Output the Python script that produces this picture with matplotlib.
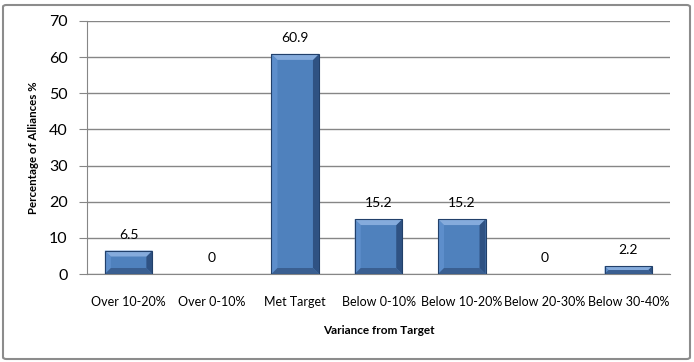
import matplotlib
matplotlib.use("Agg")
import matplotlib.pyplot as plt
from matplotlib.patches import FancyBboxPatch, Polygon

categories = ["Over 10-20%", "Over 0-10%", "Met Target", "Below 0-10%",
              "Below 10-20%", "Below 20-30%", "Below 30-40%"]
values = [6.5, 0, 60.9, 15.2, 15.2, 0, 2.2]
value_labels = ["6.5", "0", "60.9", "15.2", "15.2", "0", "2.2"]
yticks = [0, 10, 20, 30, 40, 50, 60, 70]

plt.rcParams['font.family'] = ['Lato', 'DejaVu Sans']

fig = plt.figure(figsize=(6.94, 3.62), dpi=100)
fig.patch.set_facecolor("white")
ax = fig.add_axes([87/694, 88/362, 583/694, 253/362])

ax.set_xlim(-0.5, len(categories) - 0.5)
ax.set_ylim(0, 70)

x = list(range(len(categories)))
bars = ax.bar(x, values, width=0.57, color="#4F81BD", linewidth=0, zorder=3)

# bevel effect derived from each bar's geometry
px_x = 583 / 7.0          # pixels per data unit (x)
px_y = 253 / 70.0         # pixels per data unit (y)
for b, v in zip(bars, values):
    if v <= 0:
        continue
    x0, x1 = b.get_x(), b.get_x() + b.get_width()
    top = b.get_height()
    hpx = top * px_y
    bp = min(6.0, hpx / 2.0)
    bx = bp / px_x
    by = bp / px_y
    pts_top = [(x0, top), (x1, top), (x1 - bx, top - by), (x0 + bx, top - by)]
    pts_left = [(x0, top), (x0 + bx, top - by), (x0 + bx, by), (x0, 0)]
    pts_right = [(x1, top), (x1 - bx, top - by), (x1 - bx, by), (x1, 0)]
    pts_bot = [(x0, 0), (x1, 0), (x1 - bx, by), (x0 + bx, by)]
    for pts, c in [(pts_left, "#5D8ECB"), (pts_right, "#2F5283"),
                   (pts_bot, "#3A5F91"), (pts_top, "#85ABDC")]:
        ax.add_patch(Polygon(pts, closed=True, facecolor=c, edgecolor="none", zorder=4))
    ax.add_patch(Polygon([(x0, 0), (x0, top), (x1, top), (x1, 0)], closed=True,
                         facecolor="none", edgecolor="#22406A", linewidth=0.8, zorder=5))

for xi, v, lab in zip(x, values, value_labels):
    ax.annotate(lab, (xi, v), xytext=(0, 11.5), textcoords="offset points",
                ha="center", va="center", fontsize=10, color="black")

ax.set_yticks(yticks)
ax.set_yticklabels([str(t) for t in yticks], fontsize=11.5)
ax.set_xticks(x)
ax.set_xticklabels(categories, fontsize=9)
ax.tick_params(axis="x", length=0, pad=16)
ax.tick_params(axis="y", length=6, color="#868686", pad=8)
ax.yaxis.grid(True, color="#868686", linewidth=1.0, zorder=0)
ax.set_axisbelow(True)
for s in ["top", "right"]:
    ax.spines[s].set_visible(False)
ax.spines["left"].set_color("#868686")
ax.spines["bottom"].set_color("#868686")

ax.set_ylabel("Percentage of Alliances %", fontsize=8.3, fontweight="bold", labelpad=7)
ax.set_xlabel("Variance from Target", fontsize=8.5, fontweight="bold", labelpad=12)

frame = FancyBboxPatch((3/694, 3/362), 687/694, 354/362,
                       boxstyle="round,pad=0,rounding_size=0.005",
                       transform=fig.transFigure, facecolor="none",
                       edgecolor="#8C8C8C", linewidth=1.5)
fig.patches.append(frame)

fig.savefig("out.png", dpi=100)
